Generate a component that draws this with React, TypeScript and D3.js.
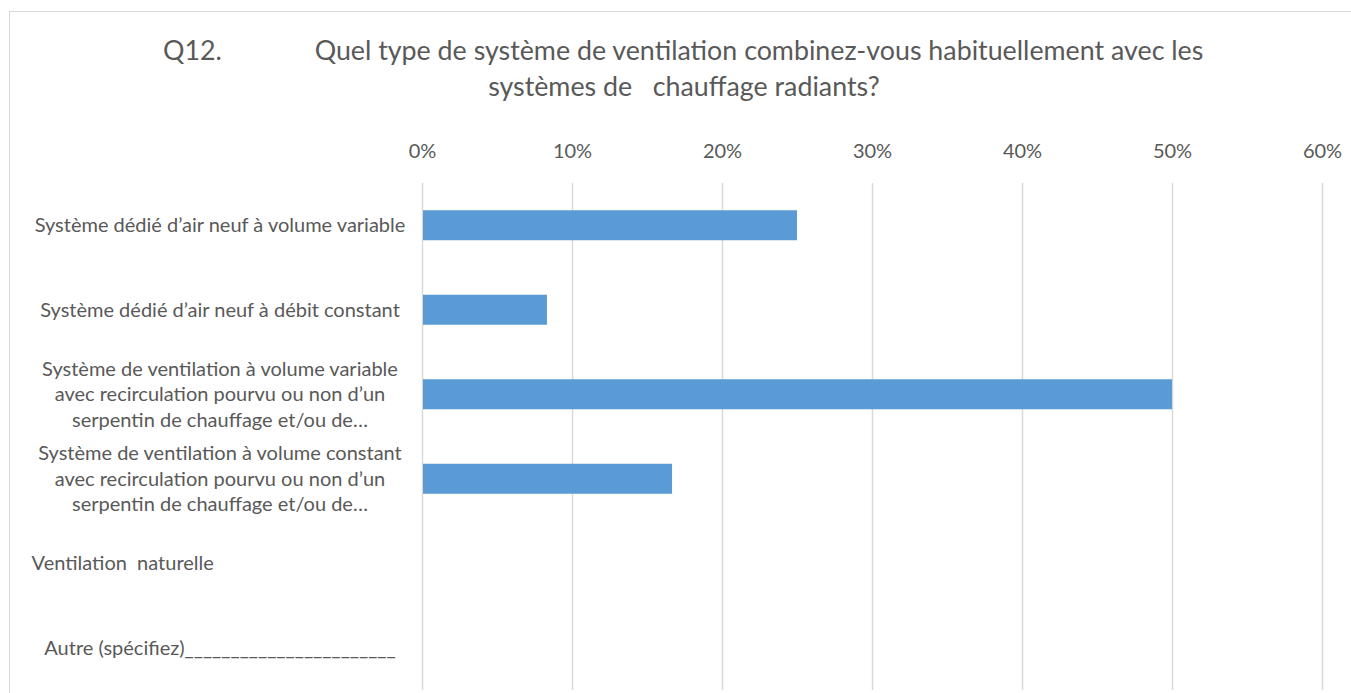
import React, { useRef, useEffect } from "react";
import * as d3 from "d3";

const titleLines = [
    "Quel type de système de ventilation combinez-vous habituellement avec les",
    "systèmes de   chauffage radiants?",
];
const questionId = "Q12.";

const categories = [
    "Système dédié d’air neuf à volume variable",
    "Système dédié d’air neuf à débit constant",
    "Système de ventilation à volume variable\navec recirculation pourvu ou non d’un\nserpentin de chauffage et/ou de…",
    "Système de ventilation à volume constant\navec recirculation pourvu ou non d’un\nserpentin de chauffage et/ou de…",
    "Ventilation  naturelle" + "\u00A0".repeat(38),
    "Autre (spécifiez)_______________________",
];
const values = [0.25, 0.0833, 0.5, 0.1667, 0, 0];
const xTicks = [0, 0.1, 0.2, 0.3, 0.4, 0.5, 0.6];

const W = 1351;
const H = 693;
const FONT = "Lato, 'Open Sans', sans-serif";
const TEXT = "#595959";

const App = () => {
    const ref = useRef<SVGSVGElement>(null);

    useEffect(() => {
        if (!ref.current) return;
        const svg = d3.select(ref.current);
        svg.selectAll("*").remove();

        const left = 422;
        const right = 1322;
        const top = 183;
        const bottom = 690;

        // chart frame
        svg.append("rect")
            .attr("x", 9.5)
            .attr("y", 11.5)
            .attr("width", 1400)
            .attr("height", 720)
            .attr("fill", "#fff")
            .attr("stroke", "#d9d9d9");

        const x = d3.scaleLinear().domain([0, 0.6]).range([left, right]);
        const y = d3
            .scaleBand()
            .domain(categories)
            .range([top, bottom])
            .paddingInner(0.645)
            .paddingOuter(0.3225);

        // title
        const tSize = 26.8;
        svg.append("text")
            .attr("x", 163)
            .attr("y", 60)
            .attr("font-size", tSize)
            .attr("font-family", FONT)
            .attr("fill", TEXT)
            .text(questionId);
        svg.append("text")
            .attr("x", 759)
            .attr("y", 60)
            .attr("text-anchor", "middle")
            .attr("font-size", tSize)
            .attr("font-family", FONT)
            .attr("fill", TEXT)
            .text(titleLines[0]);
        svg.append("text")
            .attr("x", 684)
            .attr("y", 96)
            .attr("text-anchor", "middle")
            .attr("font-size", tSize)
            .attr("font-family", FONT)
            .attr("fill", TEXT)
            .style("white-space", "pre")
            .text(titleLines[1]);

        // grid
        const grid = svg.append("g")
            .attr("transform", `translate(0,${top})`)
            .call(
                d3.axisTop(x)
                    .tickValues(xTicks)
                    .tickSize(-(bottom - top))
                    .tickFormat(d3.format(".0%"))
            );
        grid.select(".domain").remove();
        grid.selectAll(".tick line").attr("stroke", "#d9d9d9").attr("stroke-width", 1.5);
        grid.selectAll(".tick text")
            .attr("y", -25)
            .attr("fill", TEXT)
            .attr("font-size", 20)
            .attr("font-family", FONT);

        // bars
        svg.append("g")
            .selectAll("rect")
            .data(values)
            .join("rect")
            .attr("x", x(0) + 1)
            .attr("y", (d, i) => y(categories[i])!)
            .attr("width", (d) => Math.max(0, x(d) - x(0) - 1))
            .attr("height", y.bandwidth())
            .attr("fill", "#5b9bd5");

        // category labels
        const labels = svg.append("g")
            .attr("font-family", FONT)
            .attr("font-size", 20)
            .attr("fill", TEXT);
        categories.forEach((c) => {
            const lines = c.split("\n");
            const cy = y(c)! + y.bandwidth() / 2;
            const lh = 25.5;
            const t = labels.append("text")
                .attr("text-anchor", "middle")
                .style("white-space", "pre");
            lines.forEach((ln, j) => {
                t.append("tspan")
                    .attr("x", 220)
                    .attr("y", cy + (j - (lines.length - 1) / 2) * lh + 7)
                    .text(ln);
            });
        });
    }, []);

    return (
        <svg
            ref={ref}
            width={W}
            height={H}
            style={{ position: "absolute", left: 0, top: 0, background: "#fff" }}
        />
    );
};

export default App;
